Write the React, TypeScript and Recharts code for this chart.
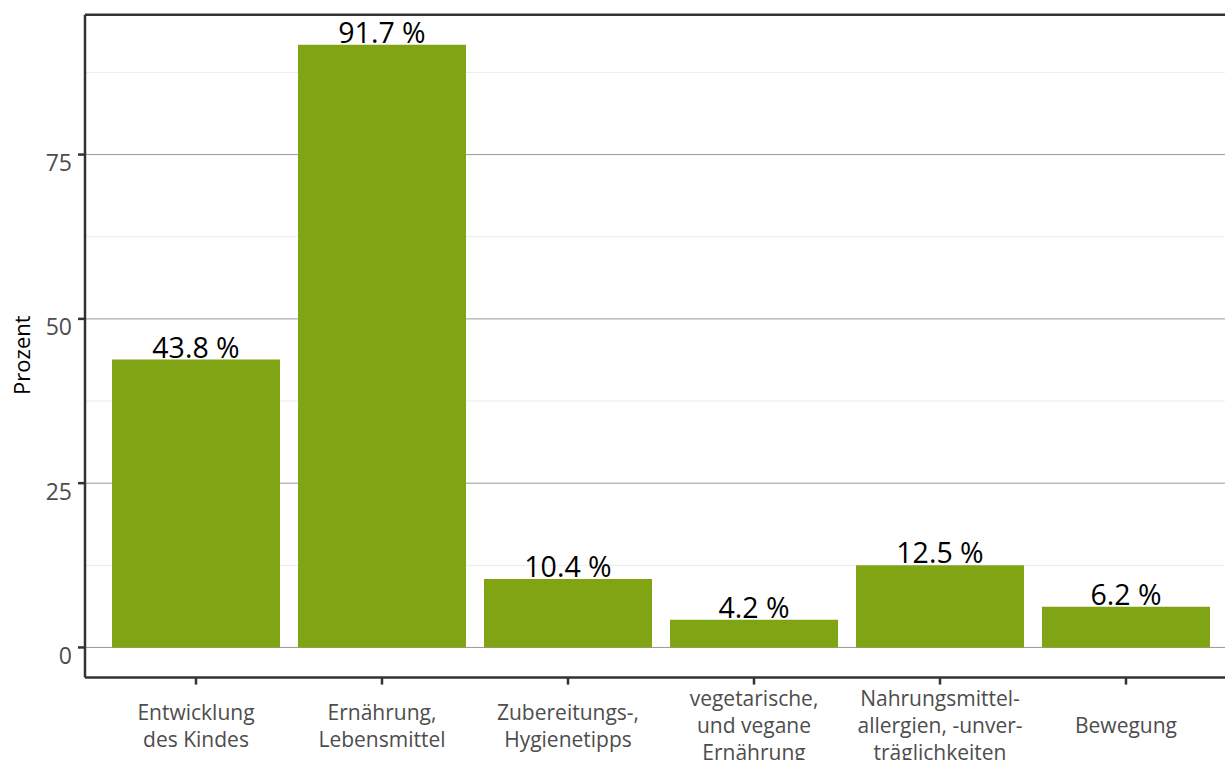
import React from "react"
import { BarChart, Bar, XAxis, YAxis, CartesianGrid, LabelList, ReferenceLine, Label } from "recharts"

// Themen (Kategorien), Zeilenumbrüche wie im Original
const categories = [
  "Entwicklung\ndes Kindes",
  "Ernährung,\nLebensmittel",
  "Zubereitungs-,\nHygienetipps",
  "vegetarische,\nund vegane\nErnährung",
  "Nahrungsmittel-\nallergien, -unver-\nträglichkeiten",
  "Bewegung",
]
const percent = [43.8, 91.7, 10.4, 4.2, 12.5, 6.2]
const majorTicks = [0, 25, 50, 75]
const minorTicks = [12.5, 37.5, 62.5, 87.5]
const yDomain: [number, number] = [-4.585, 96.285]

const data = categories.map((name, i) => ({ name, value: percent[i] }))

const GREEN = "#80a414"
const AXIS = "#333333"

function XTick(props: any) {
  const { x, y, payload } = props
  const lines = String(payload.value).split("\n")
  const step = 27
  const first = 48.4 - ((lines.length - 1) * step) / 2
  return (
    <text x={x} y={y} textAnchor="middle" fill="#4d4d4d" fontSize={21} fontFamily="Open Sans">
      {lines.map((l, i) => (
        <tspan key={i} x={x} y={y + first + i * step}>
          {l}
        </tspan>
      ))}
    </text>
  )
}

function YTick(props: any) {
  const { x, y, payload } = props
  return (
    <text x={x} y={y + 16.5} textAnchor="end" fill="#4d4d4d" fontSize={23} fontFamily="Open Sans">
      {payload.value}
    </text>
  )
}

function YTitle(props: any) {
  const vb = props.viewBox
  const cx = vb.x + 30
  const cy = vb.y + vb.height / 2 + 9
  return (
    <text
      x={cx}
      y={cy}
      transform={`rotate(-90, ${cx}, ${cy})`}
      textAnchor="middle"
      fill="#000"
      fontSize={22}
      fontFamily="Open Sans"
    >
      Prozent
    </text>
  )
}

export default function App() {
  return (
    <div
      style={{
        position: "fixed",
        left: 0,
        top: 0,
        width: 1225,
        height: 760,
        overflow: "hidden",
        background: "#fff",
        fontFamily: "Open Sans",
      }}
    >
      <BarChart
        width={1245}
        height={790}
        data={data}
        margin={{ top: 14.7, right: 8, left: 0, bottom: 30 }}
        barCategoryGap={9}
      >
        <CartesianGrid vertical={false} horizontalValues={minorTicks} stroke="#ebebeb" strokeWidth={1} />
        <CartesianGrid vertical={false} horizontalValues={majorTicks} stroke="#999999" strokeWidth={1} />
        <XAxis
          dataKey="name"
          interval={0}
          height={82.4}
          padding={{ left: 18, right: 18 }}
          tickSize={7}
          tickMargin={0}
          tick={<XTick />}
          axisLine={{ stroke: AXIS, strokeWidth: 2.5 }}
          tickLine={{ stroke: AXIS, strokeWidth: 2.5 }}
        />
        <YAxis
          type="number"
          domain={yDomain}
          ticks={majorTicks}
          width={85}
          tickSize={7}
          tickMargin={6}
          tick={<YTick />}
          axisLine={{ stroke: AXIS, strokeWidth: 2.5 }}
          tickLine={{ stroke: AXIS, strokeWidth: 2.5 }}
        >
          <Label content={<YTitle />} />
        </YAxis>
        <ReferenceLine y={yDomain[1]} stroke={AXIS} strokeWidth={2.5} ifOverflow="visible" />
        <Bar dataKey="value" fill={GREEN} isAnimationActive={false}>
          <LabelList
            dataKey="value"
            position="top"
            offset={2}
            formatter={(v: any) => `${v} %`}
            fill="#000"
            fontSize={28.5}
            fontFamily="Open Sans"
          />
        </Bar>
      </BarChart>
    </div>
  )
}
